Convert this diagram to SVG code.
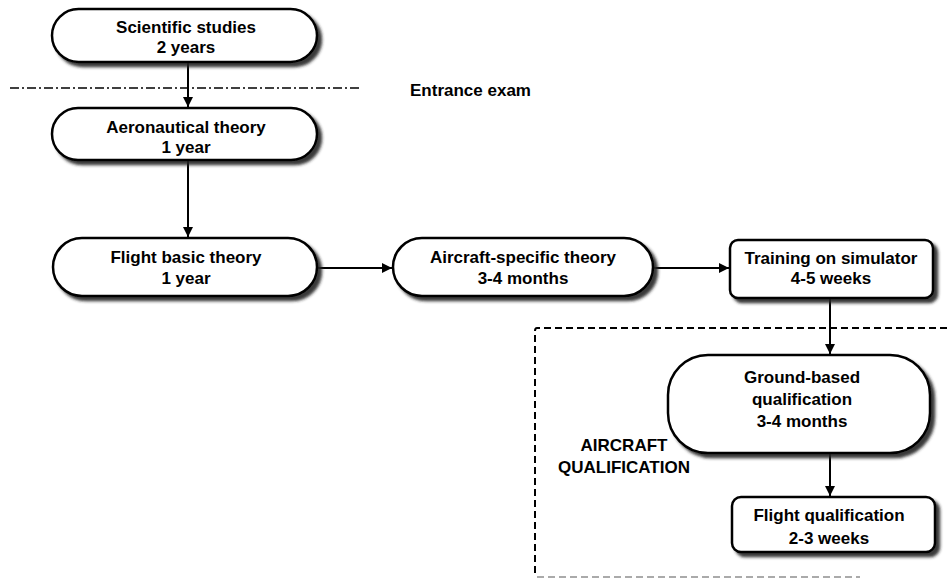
<svg xmlns="http://www.w3.org/2000/svg" width="947" height="581" viewBox="0 0 947 581">
<defs>
<filter id="sh" x="-10%" y="-20%" width="130%" height="160%">
<feDropShadow dx="4" dy="4" stdDeviation="1.5" flood-color="#222" flood-opacity="0.9"/>
</filter>
<marker id="ah" viewBox="0 0 10 10" refX="10" refY="5" markerWidth="5" markerHeight="6.5" markerUnits="strokeWidth" orient="auto">
<path d="M0,0 L10,5 L0,10 Z" fill="#000"/>
</marker>
</defs>
<style>
.n{fill:#fff;stroke:#000;stroke-width:2.5;filter:url(#sh)}
.t{font-family:"Liberation Sans",Arial,sans-serif;font-weight:bold;font-size:17px;fill:#000;text-anchor:middle}
.c{stroke:#000;stroke-width:2;fill:none;marker-end:url(#ah)}
</style>
<rect width="947" height="581" fill="#fff"/>
<g id="frame">
<path d="M947,328 L537,328 Q535,328 535,331 L535,575" fill="none" stroke="#000" stroke-width="2" stroke-dasharray="7,4"/>
<path d="M537,577 L860,577" fill="none" stroke="#aaa" stroke-width="2" stroke-dasharray="7,4"/>
<text class="t" x="624" y="451">AIRCRAFT</text>
<text class="t" x="624" y="473">QUALIFICATION</text>
</g>
<g id="exam">
<path d="M10,88 L362,88" stroke="#000" stroke-width="1.6" stroke-dasharray="9,3,2,3"/>
<text class="t" x="410" y="96" style="text-anchor:start">Entrance exam</text>
</g>
<g id="connectors">
<path class="c" d="M188,62 L188,107"/>
<path class="c" d="M188,160 L188,237"/>
<path class="c" d="M317,268 L392,268"/>
<path class="c" d="M653,268 L729,268"/>
<path class="c" d="M830,298 L830,354"/>
<path class="c" d="M830,453 L830,496"/>
</g>
<g id="n1">
<rect class="n" x="52" y="9" width="265" height="53" rx="26.5"/>
<text class="t" x="186" y="33">Scientific studies</text>
<text class="t" x="186" y="53">2 years</text>
</g>
<g id="n2">
<rect class="n" x="52" y="108" width="265" height="52" rx="26"/>
<text class="t" x="186" y="133">Aeronautical theory</text>
<text class="t" x="186" y="153">1 year</text>
</g>
<g id="n3">
<rect class="n" x="53" y="238" width="264" height="58" rx="29"/>
<text class="t" x="186" y="263">Flight basic theory</text>
<text class="t" x="186" y="284">1 year</text>
</g>
<g id="n4">
<rect class="n" x="393" y="238" width="260" height="58" rx="29"/>
<text class="t" x="523" y="263">Aircraft-specific theory</text>
<text class="t" x="523" y="284">3-4 months</text>
</g>
<g id="n5">
<rect class="n" x="730" y="240" width="203" height="58" rx="8"/>
<text class="t" x="831" y="264">Training on simulator</text>
<text class="t" x="831" y="284">4-5 weeks</text>
</g>
<g id="n6">
<rect class="n" x="668" y="355" width="262" height="98" rx="40"/>
<text class="t" x="802" y="383">Ground-based</text>
<text class="t" x="802" y="405">qualification</text>
<text class="t" x="802" y="427">3-4 months</text>
</g>
<g id="n7">
<rect class="n" x="732" y="497" width="203" height="55" rx="9"/>
<text class="t" x="829" y="521">Flight qualification</text>
<text class="t" x="829" y="544">2-3 weeks</text>
</g>
</svg>
